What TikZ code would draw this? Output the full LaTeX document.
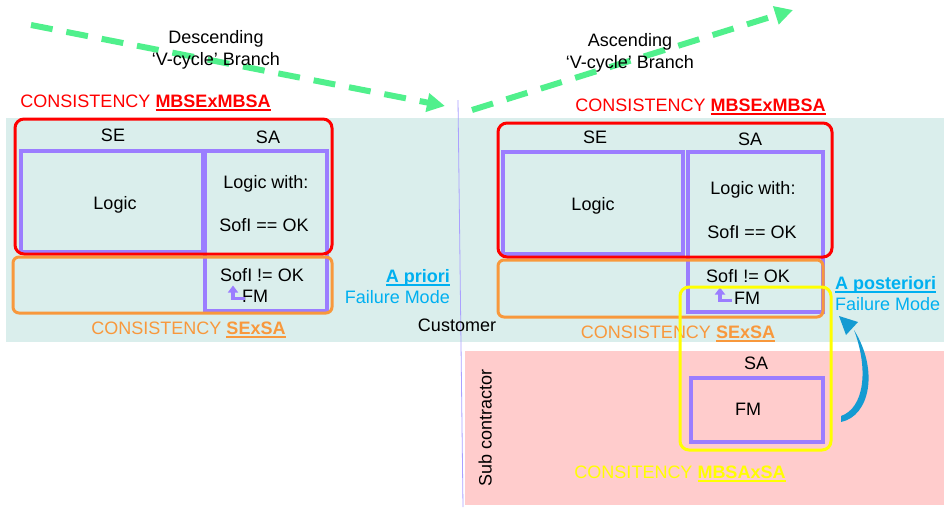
\documentclass[tikz,border=0pt]{standalone}
\usepackage{fontspec}
\setmainfont{Liberation Sans}
\usetikzlibrary{arrows.meta}

\definecolor{bgteal}{RGB}{218,238,236}
\definecolor{bgpink}{RGB}{255,204,204}
\definecolor{cred}{RGB}{255,0,0}
\definecolor{corange}{RGB}{248,152,60}
\definecolor{cyel}{RGB}{255,255,0}
\definecolor{cpurple}{RGB}{155,125,255}
\definecolor{ccyan}{RGB}{0,176,240}
\definecolor{cgreen}{RGB}{80,240,140}
\definecolor{cblue}{RGB}{20,155,210}
\definecolor{cdivider}{RGB}{170,160,255}

% bold text with a thick underline
\newcommand\myul[1]{\setbox0\hbox{\textbf{#1}}\rlap{\raisebox{-3.2pt}{\rule{\wd0}{1.6pt}}}\box0}

\tikzset{
  txt/.style={font=\fontsize{18}{22}\selectfont, inner sep=0pt, align=center},
  one/.style={txt, text height=13pt, text depth=0pt},
  consframe/.style={draw, line width=3pt, rounded corners=9pt, inner sep=0pt},
  pbox/.style={draw=cpurple, line width=4pt, inner sep=0pt},
  vbranch/.style={cgreen, line width=6pt, dash pattern=on 22pt off 14pt,
                  -{Triangle[length=18pt,width=18pt]}},
  fmarrow/.style={cpurple, line width=3.8pt, line join=miter,
                  -{Triangle[length=7pt,width=10pt]}},
}

\begin{document}
\begin{tikzpicture}[x=1pt,y=-1pt]
\useasboundingbox (0,0) rectangle (944,507);

% background bands
\fill[bgteal] (6,118) rectangle (944,342);
\fill[bgpink] (465,351) rectangle (944,505);

% customer / sub contractor divider
\draw[cdivider, line width=0.8pt] (458,100) -- (463,507);

% V-cycle branches
\coordinate (dstart) at (31,25);
\coordinate (dend) at (445,106);
\coordinate (astart) at (472,110);
\coordinate (aend) at (793,10);
\draw[vbranch] (dstart) -- (dend);
\draw[vbranch] (astart) -- (aend);
\node[txt] (desc) at (216,50) {Descending\\‘V-cycle’ Branch};
\node[txt] (asc) at (630,52.5) {Ascending\\‘V-cycle’ Branch};

% ---------- left: a priori ----------
\node[one, text=cred] (lcons1) at (145.5,101) {CONSISTENCY \myul{MBSExMBSA}};
\node[pbox, minimum width=182pt, minimum height=101pt] (llogic) at (112,201.5) {};
\node[pbox, minimum width=122pt, minimum height=160pt] (lsa) at (266,231) {};
\node[consframe, draw=cred, minimum width=317pt, minimum height=135pt] (lred) at (173.5,186.5) {};
\node[consframe, draw=corange, rounded corners=6pt, minimum width=319pt, minimum height=56pt] (lorange) at (172.5,285) {};
\node[one] (lse) at (113,135) {SE};
\node[one] (lsat) at (268,137) {SA};
\node[one] (llogict) at (115,203) {Logic};
\node[one] (lwith) at (266,182) {Logic with:};
\node[one] (lok) at (264,225) {SofI == OK};
\node[one] (lnok) at (262,275) {SofI != OK};
\node[one] (lfm) at (255,296) {FM};
\draw[fmarrow] (245,298.5) -| (233,285.5);
\node[one, text=corange] (lcons2) at (188.5,328) {CONSISTENCY \myul{SExSA}};
\node[one, text=ccyan, anchor=east] (apriori) at (450,276) {\myul{A priori}};
\node[one, text=ccyan, anchor=east] (lfail) at (450,297) {Failure Mode};
\node[one] (cust) at (457,325) {Customer};

% ---------- right: a posteriori ----------
\node[one, text=cred] (rcons1) at (700.5,105) {CONSISTENCY \myul{MBSExMBSA}};
\node[pbox, minimum width=180pt, minimum height=102pt] (rlogic) at (593,203) {};
\node[pbox, minimum width=135pt, minimum height=160pt] (rsa) at (755.5,232) {};
\node[consframe, draw=cred, minimum width=334pt, minimum height=134pt] (rred) at (665,190) {};
\node[consframe, draw=corange, rounded corners=6pt, minimum width=325pt, minimum height=57pt] (rorange) at (660.5,288.5) {};
\node[one] (rse) at (595,137) {SE};
\node[one] (rsat) at (750,139) {SA};
\node[one] (rlogict) at (593,204) {Logic};
\node[one] (rwith) at (753,188) {Logic with:};
\node[one] (rok) at (752,232) {SofI == OK};
\node[one] (rnok) at (748,276) {SofI != OK};
\node[one] (rfm) at (747,298) {FM};
\draw[fmarrow] (732,300.5) -| (720,287.5);
\node[one, text=corange] (rcons2) at (678,332) {CONSISTENCY \myul{SExSA}};
\node[one, text=ccyan, anchor=west] (apost) at (835,283) {\myul{A posteriori}};
\node[one, text=ccyan, anchor=west] (rfail) at (835,304) {Failure Mode};

% sub contractor analysis
\node[one, rotate=90] (sub) at (485,428) {Sub contractor};
\node[pbox, minimum width=132pt, minimum height=64pt] (subfm) at (757,410) {};
\node[one] (subsa) at (756,363) {SA};
\node[one] (subfmt) at (748,409) {FM};
\node[consframe, draw=cyel, minimum width=151pt, minimum height=163pt] (yframe) at (755.5,368.5) {};
\node[one, text=cyel] (ycons) at (680,472) {CONSITENCY \myul{MBSAxSA}};

% feedback of the sub contractor failure mode
\coordinate (fbtail) at (841,416);
\coordinate (fbtip) at (839,316);
\fill[cblue] (fbtail) ++(0,6) .. controls (870,416) and (879,370) .. (854,330)
  .. controls (869,370) and (864,408) .. (fbtail) -- cycle;
\fill[cblue] (fbtip) -- (858,322) -- (846,335) -- cycle;

\end{tikzpicture}
\end{document}
